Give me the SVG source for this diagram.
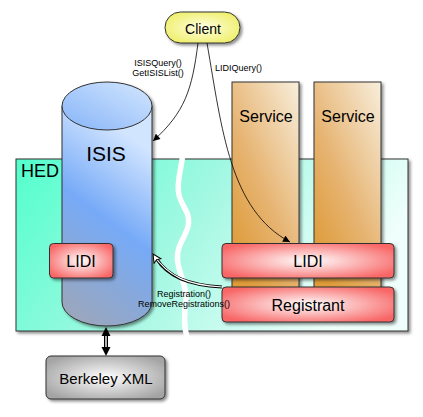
<svg xmlns="http://www.w3.org/2000/svg" width="423" height="417" viewBox="0 0 423 417">
<defs>
<style>
text{font-family:"Liberation Sans",Arial,sans-serif;fill:#000}
.nd{stroke:#333;stroke-width:1}
.lbl{font-size:9px;text-anchor:middle}
.big{font-size:16px;text-anchor:middle}
</style>
<filter id="sh" x="-20%" y="-20%" width="150%" height="150%">
<feDropShadow dx="2" dy="2" stdDeviation="1.5" flood-color="#000" flood-opacity="0.45"/>
</filter>
<linearGradient id="hedG" x1="0" y1="0" x2="1" y2="0.3">
<stop offset="0" stop-color="#52ffcc"/>
<stop offset="0.5" stop-color="#a2f8e2"/>
<stop offset="1" stop-color="#effffb"/>
</linearGradient>
<linearGradient id="cylG" x1="0.3" y1="0" x2="0" y2="1">
<stop offset="0" stop-color="#d2e5ff"/>
<stop offset="0.42" stop-color="#76aaf7"/>
<stop offset="1" stop-color="#a0a6b4"/>
</linearGradient>
<linearGradient id="topG" x1="1" y1="0" x2="0" y2="1">
<stop offset="0" stop-color="#d4e7ff"/>
<stop offset="1" stop-color="#86b4f8"/>
</linearGradient>
<linearGradient id="svcG" x1="1" y1="0" x2="0.3" y2="1">
<stop offset="0" stop-color="#f8eedc"/>
<stop offset="0.6" stop-color="#e6b370"/>
<stop offset="1" stop-color="#de9b38"/>
</linearGradient>
<radialGradient id="redG" cx="0.5" cy="0.5" r="0.6">
<stop offset="0" stop-color="#ffffff"/>
<stop offset="1" stop-color="#f86666"/>
</radialGradient>
<radialGradient id="grayG" cx="0.5" cy="0.5" r="0.6">
<stop offset="0" stop-color="#ffffff"/>
<stop offset="1" stop-color="#a4a4a4"/>
</radialGradient>
<radialGradient id="yelG" cx="0.5" cy="0.5" r="0.6">
<stop offset="0" stop-color="#ffffe2"/>
<stop offset="1" stop-color="#eeee66"/>
</radialGradient>
<marker id="ah" viewBox="0 0 10 10" refX="10" refY="5" markerWidth="8" markerHeight="7" markerUnits="userSpaceOnUse" orient="auto">
<path d="M0,0 L10,5 L0,10 Z" fill="#000"/>
</marker>
<marker id="ho" viewBox="0 0 12 12" refX="11" refY="6" markerWidth="10" markerHeight="10" markerUnits="userSpaceOnUse" orient="auto">
<path d="M1,1 L11,6 L1,11 L3,6 Z" fill="#fff" stroke="#000" stroke-width="1.2"/>
</marker>
</defs>

<g id="HED">
<rect class="nd" x="16" y="159" width="392" height="172" fill="url(#hedG)" filter="url(#sh)"/>
<text x="21" y="177" font-size="18">HED</text>
</g>

<path id="wave" d="M182.5,156 C181,172 176,182 179,195 C182,207 190,212 188.5,224 C187,236 176,245 177.5,260 C179,275 187,285 186,300 C185,312 183,322 187,338" fill="none" stroke="#fff" stroke-width="5.5" stroke-linecap="round"/>

<g id="ISIS" filter="url(#sh)">
<path class="nd" d="M62,106 L62,302 A45,24 0 0 0 152,302 L152,106 Z" fill="url(#cylG)"/>
<ellipse class="nd" cx="107" cy="106" rx="45" ry="24" fill="url(#topG)"/>
</g>
<text x="106" y="161" font-size="21" text-anchor="middle">ISIS</text>

<g id="Service1">
<rect class="nd" x="232" y="82" width="67" height="215" fill="url(#svcG)" filter="url(#sh)"/>
<text class="big" x="266" y="122">Service</text>
</g>
<g id="Service2">
<rect class="nd" x="314" y="82" width="67" height="215" fill="url(#svcG)" filter="url(#sh)"/>
<text class="big" x="348" y="122">Service</text>
</g>

<g id="LIDI_left">
<rect class="nd" x="49.5" y="243.5" width="63.5" height="34.5" rx="4" fill="url(#redG)" filter="url(#sh)"/>
<text class="big" x="81" y="267">LIDI</text>
</g>
<g id="LIDI_right">
<rect class="nd" x="222" y="243.5" width="172" height="34.5" rx="4" fill="url(#redG)" filter="url(#sh)"/>
<text class="big" x="308" y="267">LIDI</text>
</g>
<g id="Registrant">
<rect class="nd" x="222" y="287" width="172" height="35" rx="4" fill="url(#redG)" filter="url(#sh)"/>
<text class="big" x="308" y="311">Registrant</text>
</g>
<g id="Berkeley">
<rect class="nd" x="46" y="356" width="119" height="43" rx="5" fill="url(#grayG)" filter="url(#sh)"/>
<text x="106" y="384" font-size="15" text-anchor="middle">Berkeley XML</text>
</g>
<g id="Client">
<rect class="nd" x="165" y="12" width="75" height="31" rx="15.5" fill="url(#yelG)" filter="url(#sh)"/>
<text x="203" y="34" font-size="14" text-anchor="middle">Client</text>
</g>

<g id="connectors" fill="none">
<path d="M198,43 C192,90 185,112 153,141" stroke="#000" stroke-width="0.8" marker-end="url(#ah)"/>
<path d="M207,43 C222,130 230,210 290,242" stroke="#000" stroke-width="0.8" marker-end="url(#ah)"/>
<path d="M222,287 C188,285 168,277 156,258" stroke="#000" stroke-width="3.2"/>
<path d="M222,287 C188,285 168,277 153,254" stroke="#fff" stroke-width="1.2" marker-end="url(#ho)"/>
<line x1="106" y1="334" x2="106" y2="348" stroke="#000" stroke-width="4"/>
<line x1="106" y1="333" x2="106" y2="349" stroke="#fff" stroke-width="1.4"/>
<path d="M106,327 L101.5,336 L110.5,336 Z" fill="#000"/>
<path d="M106,356 L101.5,347 L110.5,347 Z" fill="#000"/>
</g>

<g id="labels">
<text class="lbl" x="158" y="65.5">ISISQuery()</text>
<text class="lbl" x="158" y="75.5">GetISISList()</text>
<text x="215" y="71" font-size="9">LIDIQuery()</text>
<text class="lbl" x="184" y="297">Registration()</text>
<text class="lbl" x="184" y="307">RemoveRegistrations()</text>
</g>
</svg>
